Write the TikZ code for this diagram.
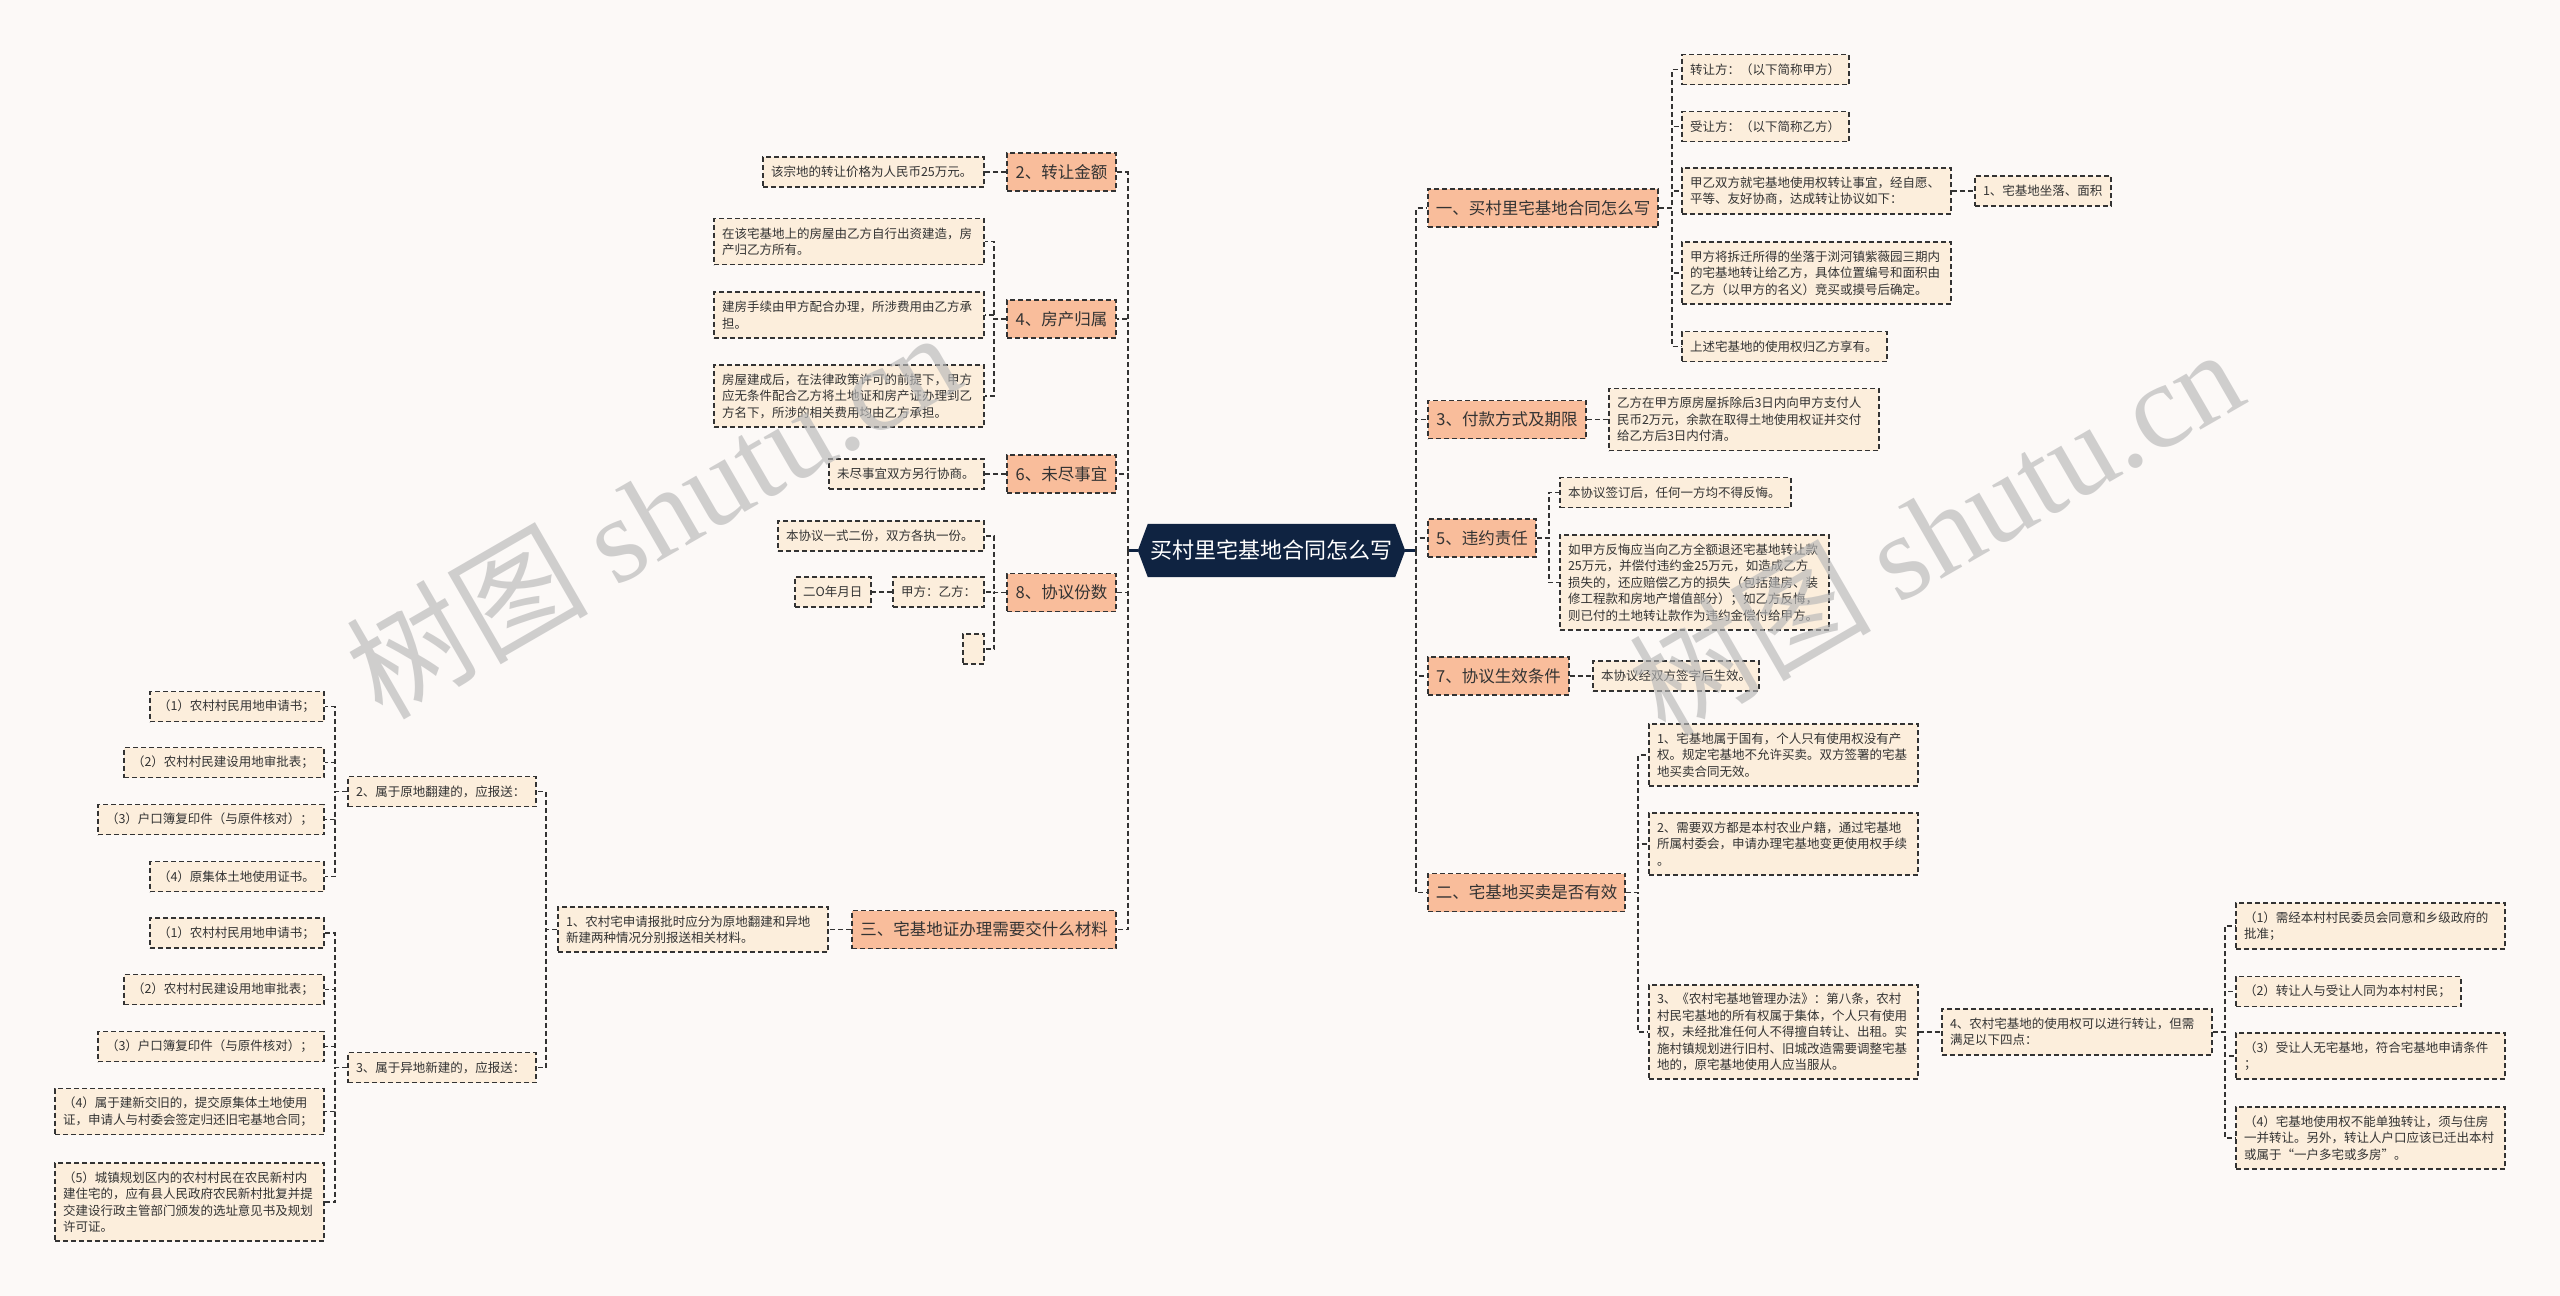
\documentclass[tikz,border=0pt]{standalone}
\usepackage{fontspec}
\setmainfont{Noto Sans CJK SC}
\newfontfamily\wmserif{Liberation Serif}
\usetikzlibrary{backgrounds}
\definecolor{bgc}{HTML}{FCF9F7}
\definecolor{navy}{HTML}{0F2341}
\definecolor{salmon}{HTML}{F9BD9B}
\definecolor{cream}{HTML}{FCEEDC}
\definecolor{ink}{HTML}{333333}
\definecolor{wmc}{HTML}{B8B8B8}
\tikzset{
 conn/.style={draw=ink, line width=1.6pt, dash pattern=on 5pt off 3pt},
 rootline/.style={draw=navy, line width=2.6pt},
 boxbase/.style={rectangle, draw=ink, line width=1.6pt, dash pattern=on 5pt off 3pt, text=ink, inner ysep=0pt},
 lvl/.style={boxbase, fill=salmon, font=\fontsize{16.5}{20}\selectfont, inner xsep=8pt, minimum height=38pt},
 leaf/.style={boxbase, fill=cream, font=\fontsize{12.5}{16.4}\selectfont, inner xsep=8pt, align=left},
 wmark/.style={rotate=30, text=wmc, text opacity=0.65, font=\fontsize{121}{128}\selectfont, inner sep=0pt},
}
\begin{document}
\begin{tikzpicture}[x=1pt,y=-1pt]
\useasboundingbox (0,0) rectangle (2560,1296);
\begin{scope}[on background layer]
\fill[bgc] (0,0) rectangle (2560,1296);
\end{scope}

% root
\node[font=\fontsize{22}{26}\selectfont, text=white, minimum width=267pt, minimum height=53pt, inner sep=0pt] (root) at (1271.5,550.5) {买村里宅基地合同怎么写};
\begin{scope}[on background layer]
\fill[navy] (root.west) -- ([xshift=10pt]root.north west) -- ([xshift=-10pt]root.north east) -- (root.east) -- ([xshift=-10pt]root.south east) -- ([xshift=10pt]root.south west) -- cycle;
\end{scope}

% left level 1
\node[lvl, minimum width=109pt] (L2) at (1061.5,172) {2、转让金额};
\node[lvl, minimum width=109pt] (L4) at (1061.5,319) {4、房产归属};
\node[lvl, minimum width=109pt] (L6) at (1061.5,474) {6、未尽事宜};
\node[lvl, minimum width=109pt] (L8) at (1061.5,592.5) {8、协议份数};
\node[lvl, minimum width=264pt] (L3) at (984,929.5) {三、宅基地证办理需要交什么材料};

% left leaves
\node[leaf, text width=205pt, minimum height=30pt] (a1) at (873.5,172) {该宗地的转让价格为人民币25万元。};
\node[leaf, text width=254pt, minimum height=46pt] (b1) at (849,241.5) {在该宅基地上的房屋由乙方自行出资建造，房\\产归乙方所有。};
\node[leaf, text width=254pt, minimum height=46pt] (b2) at (849,315) {建房手续由甲方配合办理，所涉费用由乙方承\\担。};
\node[leaf, text width=254pt, minimum height=62pt] (b3) at (849,396) {房屋建成后，在法律政策许可的前提下，甲方\\应无条件配合乙方将土地证和房产证办理到乙\\方名下，所涉的相关费用均由乙方承担。};
\node[leaf, text width=139pt, minimum height=30pt] (c1) at (906.5,474) {未尽事宜双方另行协商。};
\node[leaf, text width=190pt, minimum height=30pt] (d1) at (881,536) {本协议一式二份，双方各执一份。};
\node[leaf, text width=75pt, minimum height=30pt] (d2) at (938.5,592) {甲方：乙方：};
\node[leaf, text width=60pt, minimum height=30pt] (d2g) at (833,592) {二O年月日};
\node[leaf, text width=5pt, minimum height=30pt] (d3) at (973.5,649) {};
\node[leaf, text width=254pt, minimum height=45pt] (e1) at (693,929.5) {1、农村宅申请报批时应分为原地翻建和异地\\新建两种情况分别报送相关材料。};
\node[leaf, text width=172pt, minimum height=30pt] (fa) at (442,791.5) {2、属于原地翻建的，应报送：};
\node[leaf, text width=172pt, minimum height=30pt] (ga) at (442,1067.5) {3、属于异地新建的，应报送：};
\node[leaf, text width=158pt, minimum height=30pt] (f1) at (237,706.5) {（1）农村村民用地申请书；};
\node[leaf, text width=184pt, minimum height=30pt] (f2) at (224,762.5) {（2）农村村民建设用地审批表；};
\node[leaf, text width=210pt, minimum height=30pt] (f3) at (211,819.5) {（3）户口簿复印件（与原件核对）；};
\node[leaf, text width=158pt, minimum height=30pt] (f4) at (237,876.5) {（4）原集体土地使用证书。};
\node[leaf, text width=158pt, minimum height=30pt] (g1) at (237,933) {（1）农村村民用地申请书；};
\node[leaf, text width=184pt, minimum height=30pt] (g2) at (224,989.5) {（2）农村村民建设用地审批表；};
\node[leaf, text width=210pt, minimum height=30pt] (g3) at (211,1046.5) {（3）户口簿复印件（与原件核对）；};
\node[leaf, text width=253pt, minimum height=46pt] (g4) at (189.5,1111.5) {（4）属于建新交旧的，提交原集体土地使用\\证，申请人与村委会签定归还旧宅基地合同；};
\node[leaf, text width=253pt, minimum height=78pt] (g5) at (189.5,1202) {（5）城镇规划区内的农村村民在农民新村内\\建住宅的，应有县人民政府农民新村批复并提\\交建设行政主管部门颁发的选址意见书及规划\\许可证。};

% right level 1
\node[lvl, minimum width=230pt] (R1) at (1543,208) {一、买村里宅基地合同怎么写};
\node[lvl, minimum width=158pt] (R3) at (1507,419.5) {3、付款方式及期限};
\node[lvl, minimum width=108pt] (R5) at (1482,538) {5、违约责任};
\node[lvl, minimum width=141pt] (R7) at (1498.5,676) {7、协议生效条件};
\node[lvl, minimum width=197pt] (R2) at (1526.5,892.5) {二、宅基地买卖是否有效};

% right leaves
\node[leaf, text width=151pt, minimum height=30pt] (r1a) at (1765.5,69.5) {转让方：（以下简称甲方）};
\node[leaf, text width=151pt, minimum height=30pt] (r1b) at (1765.5,126.5) {受让方：（以下简称乙方）};
\node[leaf, text width=253pt, minimum height=46pt] (r1c) at (1816.5,191) {甲乙双方就宅基地使用权转让事宜，经自愿、\\平等、友好协商，达成转让协议如下：};
\node[leaf, text width=120pt, minimum height=30pt] (r1c1) at (2043,191) {1、宅基地坐落、面积};
\node[leaf, text width=253pt, minimum height=62pt] (r1d) at (1816.5,273) {甲方将拆迁所得的坐落于浏河镇紫薇园三期内\\的宅基地转让给乙方，具体位置编号和面积由\\乙方（以甲方的名义）竞买或摸号后确定。};
\node[leaf, text width=189pt, minimum height=30pt] (r1e) at (1784.5,346.5) {上述宅基地的使用权归乙方享有。};
\node[leaf, text width=254pt, minimum height=62pt] (r3a) at (1744,419.5) {乙方在甲方原房屋拆除后3日内向甲方支付人\\民币2万元，余款在取得土地使用权证并交付\\给乙方后3日内付清。};
\node[leaf, text width=215pt, minimum height=30pt] (r5a) at (1675.5,492.5) {本协议签订后，任何一方均不得反悔。};
\node[leaf, text width=253pt, minimum height=95pt] (r5b) at (1694.5,582.5) {如甲方反悔应当向乙方全额退还宅基地转让款\\25万元，并偿付违约金25万元，如造成乙方\\损失的，还应赔偿乙方的损失（包括建房、装\\修工程款和房地产增值部分）；如乙方反悔，\\则已付的土地转让款作为违约金偿付给甲方。};
\node[leaf, text width=150pt, minimum height=30pt] (r7a) at (1676,676) {本协议经双方签字后生效。};
\node[leaf, text width=253pt, minimum height=62pt] (r2a) at (1783.5,755) {1、宅基地属于国有，个人只有使用权没有产\\权。规定宅基地不允许买卖。双方签署的宅基\\地买卖合同无效。};
\node[leaf, text width=253pt, minimum height=62pt] (r2b) at (1783.5,844) {2、需要双方都是本村农业户籍，通过宅基地\\所属村委会，申请办理宅基地变更使用权手续\\。};
\node[leaf, text width=253pt, minimum height=94pt] (r2c) at (1783.5,1032) {3、《农村宅基地管理办法》：第八条，农村\\村民宅基地的所有权属于集体，个人只有使用\\权，未经批准任何人不得擅自转让、出租。实\\施村镇规划进行旧村、旧城改造需要调整宅基\\地的，原宅基地使用人应当服从。};
\node[leaf, text width=254pt, minimum height=46pt] (r2c1) at (2077,1032) {4、农村宅基地的使用权可以进行转让，但需\\满足以下四点：};
\node[leaf, text width=253pt, minimum height=46pt] (s1) at (2370.5,926) {（1）需经本村村民委员会同意和乡级政府的\\批准；};
\node[leaf, text width=209pt, minimum height=30pt] (s2) at (2348.5,991.5) {（2）转让人与受让人同为本村村民；};
\node[leaf, text width=253pt, minimum height=46pt] (s3) at (2370.5,1056) {（3）受让人无宅基地，符合宅基地申请条件\\；};
\node[leaf, text width=253pt, minimum height=62pt] (s4) at (2370.5,1138) {（4）宅基地使用权不能单独转让，须与住房\\一并转让。另外，转让人户口应该已迁出本村\\或属于“一户多宅或多房”。};

% connectors: root
\draw[rootline] (root.east) -- ++(11,0) coordinate (rt);
\draw[rootline] (root.west) -- ++(-10,0) coordinate (lt);
\foreach \n in {R1,R3,R5,R7,R2} \draw[conn] (rt) |- (\n.west);
\foreach \n in {L2,L4,L6,L8,L3} \draw[conn] (lt) |- (\n.east);

% right
\foreach \n in {r1a,r1b,r1c,r1d,r1e} \draw[conn] (R1.east) -- ++(13,0) |- (\n.west);
\draw[conn] (r1c.east) -- (r1c1.west);
\draw[conn] (R3.east) -- (r3a.west);
\foreach \n in {r5a,r5b} \draw[conn] (R5.east) -- ++(12,0) |- (\n.west);
\draw[conn] (R7.east) -- (r7a.west);
\foreach \n in {r2a,r2b,r2c} \draw[conn] (R2.east) -- ++(12,0) |- (\n.west);
\draw[conn] (r2c.east) -- (r2c1.west);
\foreach \n in {s1,s2,s3,s4} \draw[conn] (r2c1.east) -- ++(12,0) |- (\n.west);

% left
\draw[conn] (L2.west) -- (a1.east);
\foreach \n in {b1,b2,b3} \draw[conn] (L4.west) -- ++(-12,0) |- (\n.east);
\draw[conn] (L6.west) -- (c1.east);
\foreach \n in {d1,d2,d3} \draw[conn] (L8.west) -- ++(-12,0) |- (\n.east);
\draw[conn] (d2.west) -- (d2g.east);
\draw[conn] (L3.west) -- (e1.east);
\foreach \n in {fa,ga} \draw[conn] (e1.west) -- ++(-11,0) |- (\n.east);
\foreach \n in {f1,f2,f3,f4} \draw[conn] (fa.west) -- ++(-12,0) |- (\n.east);
\foreach \n in {g1,g2,g3,g4,g5} \draw[conn] (ga.west) -- ++(-12,0) |- (\n.east);

% watermarks
\node[wmark] (wm1) at (652,513) {树图 {\wmserif shutu.cn}};
\node[wmark] (wm2) at (1935,530) {树图 {\wmserif shutu.cn}};
\end{tikzpicture}
\end{document}
